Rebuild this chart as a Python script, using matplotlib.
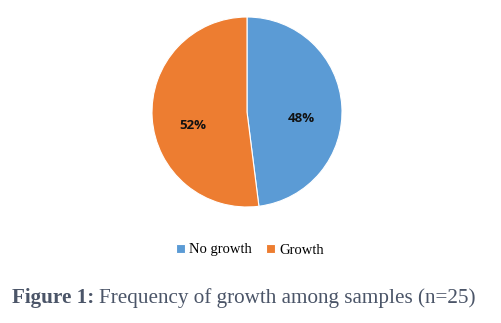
import matplotlib
matplotlib.use("Agg")
import matplotlib.pyplot as plt
import matplotlib.transforms as mtransforms

# data
labels = ["No growth", "Growth"]
shares = [48, 52]
colors = ["#5B9BD5", "#ED7D31"]

fig = plt.figure(figsize=(5.01, 3.23), dpi=100)

# pie axes (centre ~ (247,112) px, radius ~95 px)
ax = fig.add_axes([152 / 501, 116 / 323, 190 / 501, 190 / 323])
wedges, _, autotexts = ax.pie(
    shares, colors=colors, startangle=90, counterclock=False,
    autopct="%d%%", pctdistance=0.57,
    wedgeprops=dict(edgecolor="white", linewidth=0.8),
    textprops=dict(fontsize=9.5, fontweight="bold", family="Open Sans", color="#111111"))
# Excel-style label placement sits a bit lower than matplotlib's
for t in autotexts:
    t.set_transform(t.get_transform() + mtransforms.ScaledTranslation(0, -10 / 100, fig.dpi_scale_trans))
ax.set_xlim(-1, 1)
ax.set_ylim(-1, 1)
ax.set_aspect("equal")

# legend
fig.legend(wedges, labels, loc="center", bbox_to_anchor=(250 / 501, 1 - 250 / 323),
           ncol=2, frameon=False, handlelength=0.6, handleheight=0.6,
           handletextpad=0.3, columnspacing=1.0,
           prop=dict(family="Liberation Serif", size=10.5))

# caption, starting at x=12 and ending near x=475
cap_color = "#4B5568"
fs = 15.2
t1 = fig.text(12 / 501, 1 - 298 / 323, "Figure 1:", fontsize=fs, fontweight="bold",
              family="Liberation Serif", color=cap_color, va="center")
t2 = fig.text(0, 1 - 298 / 323, "Frequency of growth among samples (n=25)",
              fontsize=fs, family="Liberation Serif", color=cap_color, va="center")
fig.canvas.draw()
bb = t1.get_window_extent()
t2.set_x((bb.x1 + 5) / 501)

fig.savefig("out.png", dpi=100)
